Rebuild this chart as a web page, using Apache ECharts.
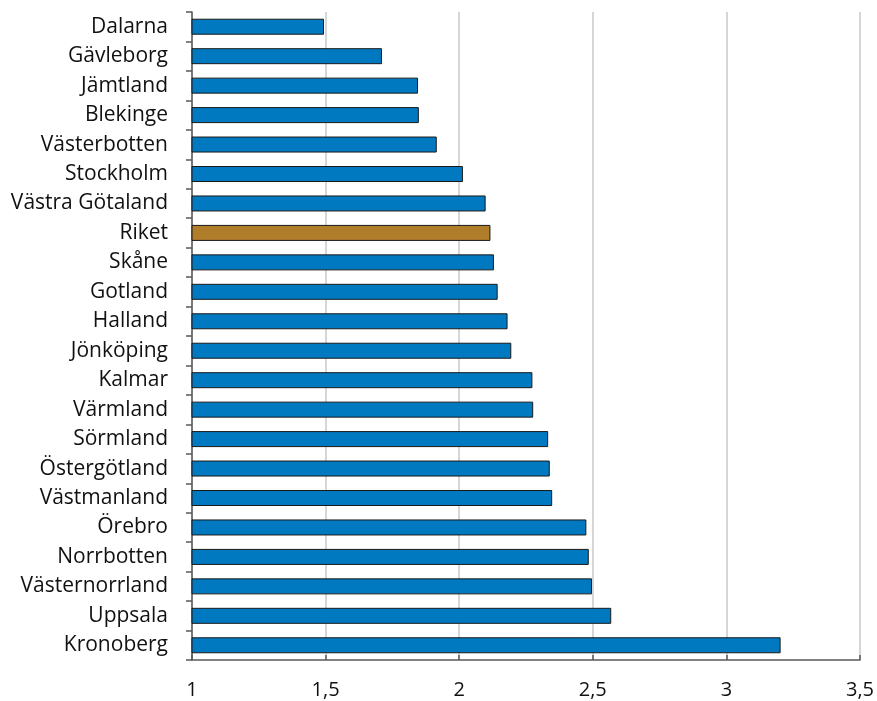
<!DOCTYPE html>
<html>
<head>
<meta charset="utf-8">
<script src="https://cdn.jsdelivr.net/npm/echarts@6/dist/echarts.min.js"></script>
<style>
html,body{margin:0;padding:0;background:#fff;}
#chart{width:877px;height:701px;}
</style>
</head>
<body>
<div id="chart"></div>
<script>
const categories = ["Dalarna","Gävleborg","Jämtland","Blekinge","Västerbotten","Stockholm","Västra Götaland","Riket","Skåne","Gotland","Halland","Jönköping","Kalmar","Värmland","Sörmland","Östergötland","Västmanland","Örebro","Norrbotten","Västernorrland","Uppsala","Kronoberg"];
const values = [1.494, 1.711, 1.846, 1.849, 1.916, 2.014, 2.099, 2.117, 2.130, 2.144, 2.181, 2.195, 2.274, 2.277, 2.333, 2.339, 2.348, 2.476, 2.485, 2.497, 2.569, 3.203];
const highlightCategory = "Riket";
const xTicks = {min: 1, max: 3.5, interval: 0.5};

const blue = '#0079C1';
const brown = '#B07D2B';

const chart = echarts.init(document.getElementById('chart'));
chart.setOption({
  animation: false,
  grid: {left: 192, right: 17, top: 12, bottom: 41, containLabel: false},
  xAxis: {
    type: 'value',
    min: xTicks.min, max: xTicks.max, interval: xTicks.interval,
    axisLine: {show: true, lineStyle: {color: '#595959', width: 1.5}},
    axisTick: {show: true, inside: true, length: 5, lineStyle: {color: '#595959', width: 1.5}},
    splitLine: {show: true, lineStyle: {color: '#c8c8c8', width: 1.5}},
    axisLabel: {
      color: '#111', fontFamily: 'Open Sans', fontSize: 20, margin: 20,
      formatter: v => String(v).replace('.', ',')
    }
  },
  yAxis: {
    type: 'category',
    inverse: true,
    data: categories,
    axisLine: {show: true, lineStyle: {color: '#595959', width: 1.5}},
    axisTick: {show: true, length: 6, lineStyle: {color: '#595959', width: 1.5}},
    axisLabel: {color: '#111', fontFamily: 'Open Sans', fontSize: 21, margin: 24}
  },
  series: [{
    type: 'bar',
    barWidth: 16,
    data: values.map((v, i) => ({
      value: v,
      itemStyle: {color: categories[i] === highlightCategory ? brown : blue}
    })),
    itemStyle: {borderColor: '#1a1a1a', borderWidth: 1}
  }]
});
</script>
</body>
</html>
